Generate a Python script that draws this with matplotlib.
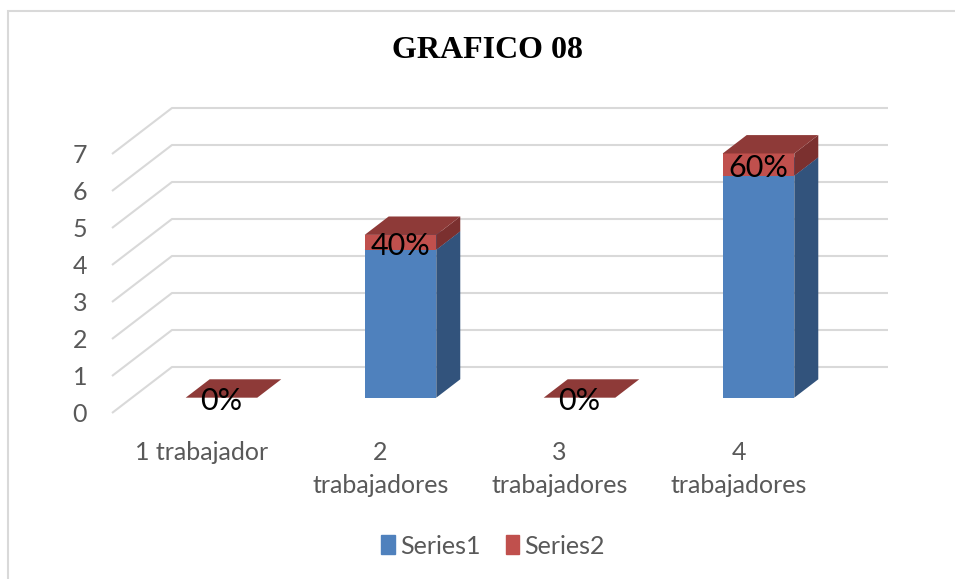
import matplotlib
matplotlib.use('Agg')
import matplotlib.pyplot as plt
from matplotlib.patches import Polygon, Patch, Rectangle

categories = ["1 trabajador", "2\ntrabajadores", "3\ntrabajadores", "4\ntrabajadores"]
series1 = [0, 4, 0, 6]
series2 = [0, 0.4, 0, 0.6]
yticks = [0, 1, 2, 3, 4, 5, 6, 7]

W, H = 955, 579
fig = plt.figure(figsize=(W / 100, H / 100), dpi=100)

# fake 3d: depth of the floor in data units, bar sits between d0 and d1 of it
DX, DY = 0.335, 1.243
d0, d1 = 0.333, 0.733
bw = 0.4
gray = '#595959'
grid = '#d9d9d9'

ax = fig.add_axes([112 / W, 1 - 413 / H, 776 / W, 305 / H])
ax.set_xlim(0, len(categories) + DX)
ax.set_ylim(0, max(yticks) + DY)
for s in ax.spines.values():
    s.set_visible(False)

for v in yticks:
    ax.plot([0, DX, len(categories) + DX], [v, v + DY, v + DY],
            color=grid, lw=1.5, zorder=0, clip_on=False, solid_capstyle='butt')


def box(xc, y0, y1, front, side, top):
    xl = xc - bw / 2 + d0 * DX
    xr = xc + bw / 2 + d0 * DX
    b = d0 * DY
    ddx = (d1 - d0) * DX
    ddy = (d1 - d0) * DY
    faces = [
        ([(xl, b + y0), (xr, b + y0), (xr, b + y1), (xl, b + y1)], front),
        ([(xr, b + y0), (xr + ddx, b + y0 + ddy), (xr + ddx, b + y1 + ddy), (xr, b + y1)], side),
        ([(xl, b + y1), (xr, b + y1), (xr + ddx, b + y1 + ddy), (xl + ddx, b + y1 + ddy)], top),
    ]
    for pts, c in faces:
        ax.add_patch(Polygon(pts, closed=True, fc=c, ec='none', zorder=2, clip_on=False))


for i, (a, b) in enumerate(zip(series1, series2)):
    xc = i + 0.5
    if a > 0:
        box(xc, 0, a, '#4f81bd', '#32537c', '#3f6797')
    box(xc, a, a + b, '#c0504d', '#7b302f', '#8e3a38')
    ax.text(xc + d0 * DX, d0 * DY + a + b / 2 - 0.1, f"{b:.0%}", ha='center', va='center',
            fontsize=22, family='Lato', color='black', zorder=3)

ax.set_yticks(yticks)
ax.set_yticklabels([str(v) for v in yticks], family='Lato', fontsize=18, color=gray)
ax.set_xticks([i + 0.5 for i in range(len(categories))])
ax.set_xticklabels(categories, family='Lato', fontsize=18, color=gray, linespacing=1.55)
ax.tick_params(axis='y', length=0, pad=18)
ax.tick_params(axis='x', length=0, pad=20)

fig.text(487 / W, 1 - 51 / H, 'GRAFICO 08', ha='center', va='center',
         family='Liberation Serif', weight='bold', fontsize=23)

fig.legend(handles=[Patch(color='#4f81bd', label='Series1'), Patch(color='#c0504d', label='Series2')],
           loc='center', bbox_to_anchor=(493 / W, 1 - 546 / H), ncol=2, frameon=False,
           handlelength=0.55, handleheight=0.8, handletextpad=0.2, columnspacing=1.0,
           prop={'family': 'Lato', 'size': 18}, labelcolor=gray)

fig.patches.append(Rectangle((8 / W, -0.1), 1.0, 1.1 - 11 / H, transform=fig.transFigure,
                             fill=False, ec=grid, lw=1.5))

fig.savefig('out.png', dpi=100)
